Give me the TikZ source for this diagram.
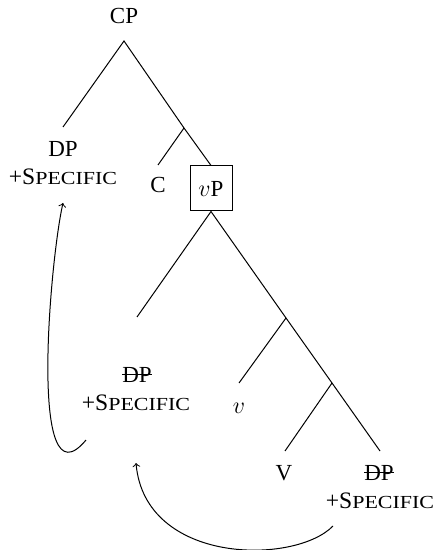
\documentclass[tikz,border=0pt]{standalone}
\usepackage{fontspec}
\setmainfont{Liberation Serif}
\usepackage{graphicx}
\newcommand\fakesc[1]{\scalebox{0.93}[0.78]{#1}}
\newcommand\dpstrike[1]{\setbox0=\hbox{#1}\rlap{\rule[0.32em]{\wd0}{0.5pt}}\box0}
\begin{document}
\begin{tikzpicture}[x=0.5pt,y=-0.5pt,
  lbl/.style={font=\fontsize{11.5}{13}\selectfont, inner sep=0pt, anchor=base},
  feat/.style={font=\fontsize{11.8}{13}\selectfont, inner sep=0pt, anchor=base},
  branch/.style={line width=0.5pt},
  move/.style={->, line width=0.5pt},
  boxed/.style={draw, line width=0.5pt, font=\fontsize{11.5}{13}\selectfont, minimum width=21pt, minimum height=22.5pt, inner sep=0pt}]
\useasboundingbox (0,0) rectangle (433,550);
% labels
\node[lbl] (cp) at (124,24) {CP};
\node[lbl] (dp1) at (63,157) {DP};
\node[feat] (sp1) at (63,185) {+S\fakesc{PECIFIC}};
\node[lbl] (c) at (158,193) {C};
\node[boxed] (vp) at (211,188.5) {$v$P};
\node[lbl] (dp2) at (137,382) {\dpstrike{DP}};
\node[feat] (sp2) at (136,410) {+S\fakesc{PECIFIC}};
\node[lbl] (v) at (239,413) {$v$};
\node[lbl] (V) at (284,480) {V};
\node[lbl] (dp3) at (379,480) {\dpstrike{DP}};
\node[feat] (sp3) at (380,508) {+S\fakesc{PECIFIC}};
% tree coordinates
\coordinate (apex) at (124,41);
\coordinate (cpl) at (63,127);
\coordinate (b1) at (184,128);
\coordinate (cend) at (158,165);
\coordinate (vpl) at (137,317);
\coordinate (b2) at (286,318);
\coordinate (vend) at (239,383);
\coordinate (b3) at (332,383);
\coordinate (Vend) at (285,451);
\coordinate (dpend) at (380,451);
% branches
\draw[branch] (cpl) -- (apex) -- (b1) -- (vp.north);
\draw[branch] (b1) -- (cend);
\draw[branch] (vpl) -- (vp.south) -- (b2) -- (b3) -- (dpend);
\draw[branch] (b2) -- (vend);
\draw[branch] (b3) -- (Vend);
% movement arrows
\coordinate (m1s) at (86,440);
\coordinate (m1e) at (63,203);
\coordinate (m2s) at (333,526);
\coordinate (m2e) at (136,463);
\draw[move] (m1s) .. controls (28,510) and (50,260) .. (m1e);
\draw[move] (m2s) .. controls (295,565) and (145,565) .. (m2e);
\end{tikzpicture}
\end{document}
